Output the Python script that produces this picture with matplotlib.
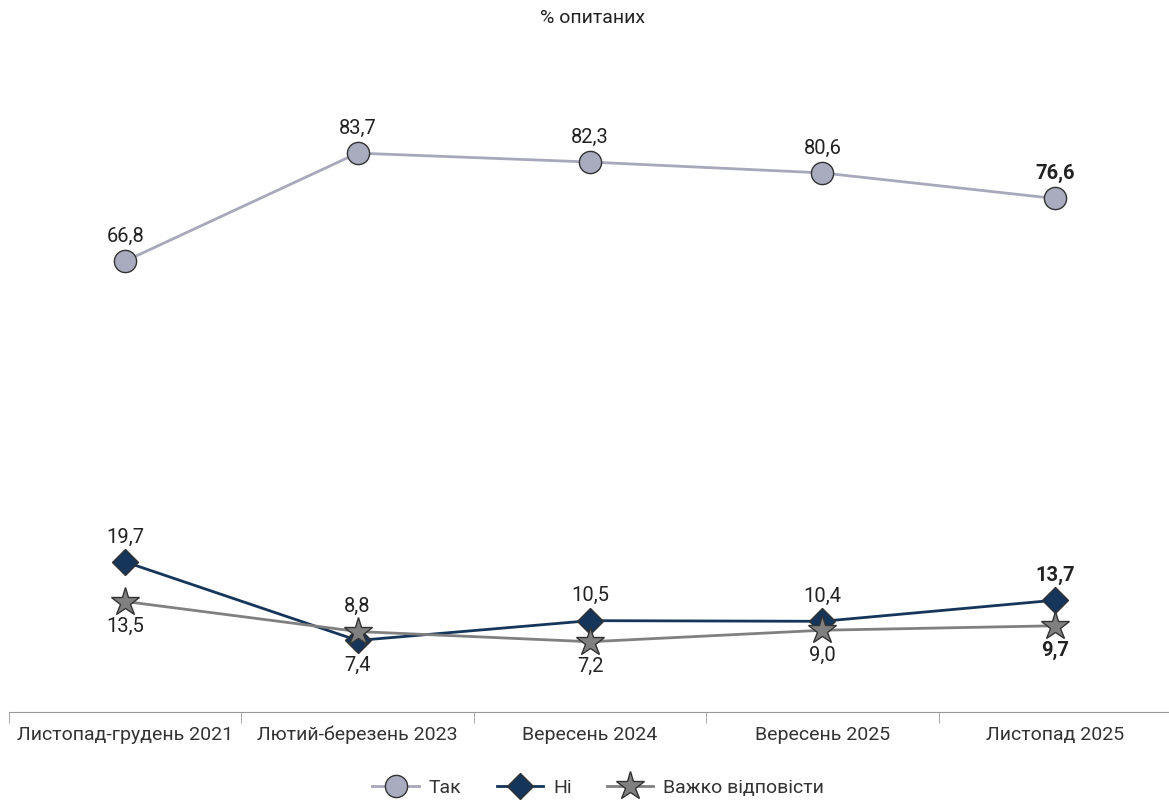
import matplotlib.pyplot as plt
import numpy as np

plt.rcParams['font.family'] = ['Roboto', 'DejaVu Sans']

periods = ['Листопад-грудень 2021', 'Лютий-березень 2023', 'Вересень 2024',
           'Вересень 2025', 'Листопад 2025']
tak = [66.8, 83.7, 82.3, 80.6, 76.6]
ni = [19.7, 7.4, 10.5, 10.4, 13.7]
vazhko = [13.5, 8.8, 7.2, 9.0, 9.7]

# label side: 1 above, -1 below
ni_pos = [1, -1, 1, 1, 1]
vazhko_pos = [-1, 1, -1, -1, -1]

fig = plt.figure(figsize=(11.69, 8), dpi=100)
ax = fig.add_axes([9 / 1169, 88 / 800, 1162 / 1169, 663 / 800])

x = np.arange(len(periods))
ax.plot(x, tak, color='#a8a8bc', lw=2, marker='o', ms=16, mfc='#a9abbf',
        mec='#333333', mew=1, label='Так', zorder=3)
ax.plot(x, ni, color='#15355b', lw=2, marker='D', ms=13, mfc='#15355b',
        mec='#333333', mew=1, label='Ні', zorder=4)
ax.plot(x, vazhko, color='#808080', lw=2, marker='*', ms=21, mfc='#808080',
        mec='#333333', mew=1, label='Важко відповісти', zorder=5)

def fmt(v):
    return f'{v:.1f}'.replace('.', ',')

last = len(periods) - 1
for i, v in enumerate(tak):
    ax.annotate(fmt(v), (i, v), xytext=(0, 11), textcoords='offset points',
                ha='center', va='bottom', fontsize=14.5, color='#222222',
                fontweight='bold' if i == last else 'normal')
for series, sides in ((ni, ni_pos), (vazhko, vazhko_pos)):
    for i, v in enumerate(series):
        s = sides[i]
        ax.annotate(fmt(v), (i, v), xytext=(0, 11 * s), textcoords='offset points',
                    ha='center', va='bottom' if s > 0 else 'top', fontsize=14.5,
                    color='#222222', fontweight='bold' if i == last else 'normal')

ax.set_xlim(-0.5, len(periods) - 0.5)
ax.set_ylim(-3.8, 100)
for sp in ['top', 'right', 'left']:
    ax.spines[sp].set_visible(False)
ax.spines['bottom'].set_color('#999999')
ax.set_yticks([])
ax.set_xticks(x)
ax.set_xticklabels(periods, fontsize=14, color='#333333')
ax.tick_params(axis='x', length=0, pad=10)
ax.set_xticks(np.arange(-0.5, len(periods), 1), minor=True)
ax.tick_params(axis='x', which='minor', length=8, color='#999999', direction='out')

fig.text(592 / 1169, 1 - 18 / 800, '% опитаних', ha='center', va='center',
         fontsize=14, color='#222222')
ax.legend(loc='center', bbox_to_anchor=(0.507, -0.114), ncol=3, frameon=False,
          fontsize=14, handlelength=2.4, handletextpad=0.5, columnspacing=1.8,
          labelcolor='#333333')

plt.savefig('out.png', dpi=100)
